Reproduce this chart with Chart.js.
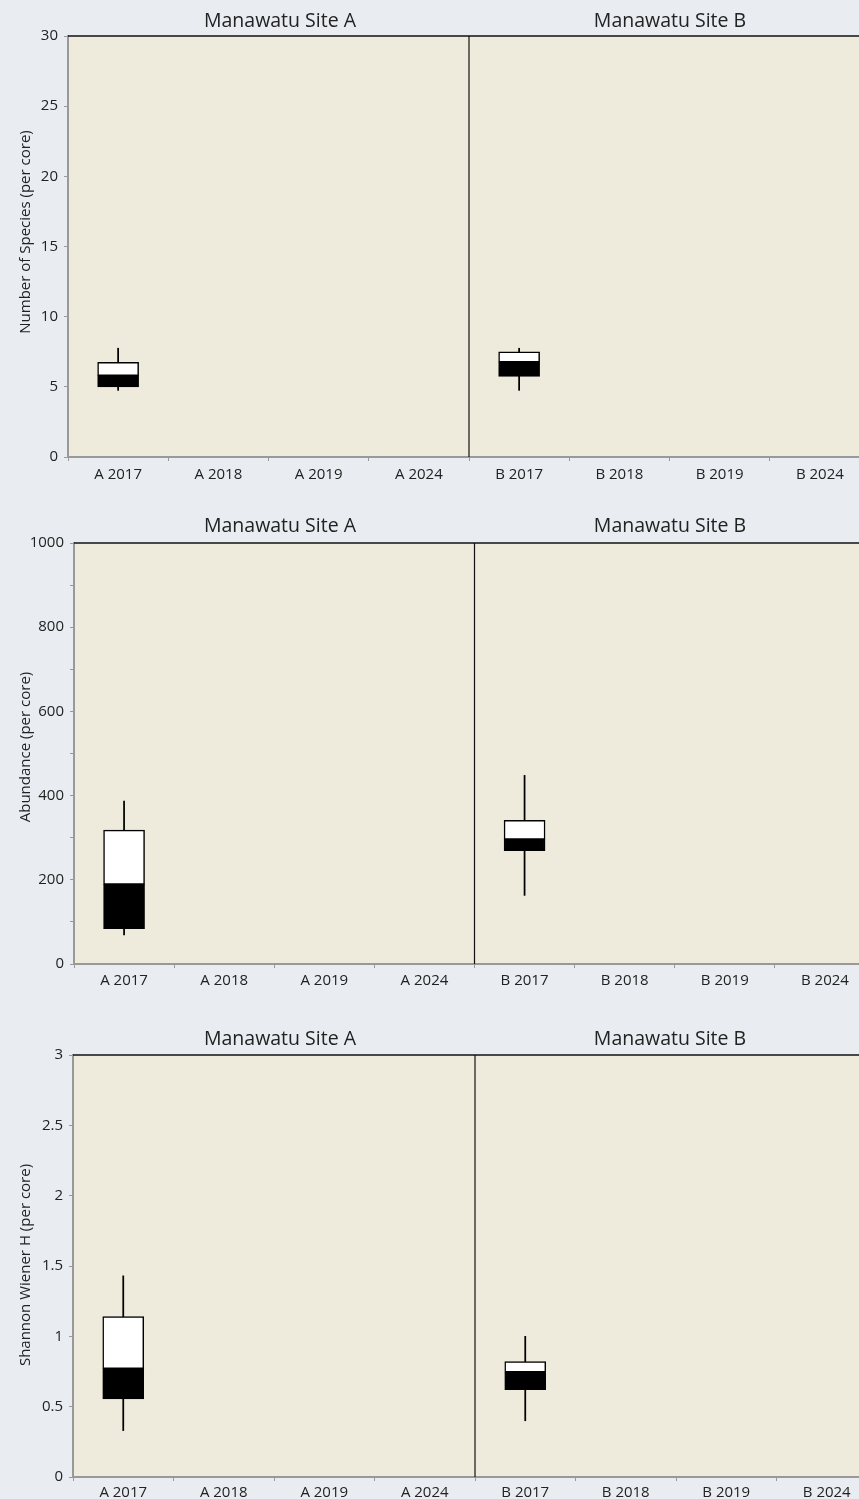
<!DOCTYPE html>
<html><head><meta charset="utf-8">
<script src="https://cdn.jsdelivr.net/npm/chart.js@4/dist/chart.umd.min.js"></script>
<style>
html,body{margin:0;padding:0;overflow:hidden;background:#e9edf1;width:859px;height:1499px;}
.wrap{position:absolute;left:0;width:880px;}
canvas{display:block;}
</style></head><body>
<div class="wrap" style="top:0"><canvas id="c1" width="880" height="500" style="width:880px;height:500px"></canvas></div>
<div class="wrap" style="top:500px"><canvas id="c2" width="880" height="500" style="width:880px;height:500px"></canvas></div>
<div class="wrap" style="top:1000px"><canvas id="c3" width="880" height="499" style="width:880px;height:499px"></canvas></div>
<script>
const categories = ['A 2017','A 2018','A 2019','A 2024','B 2017','B 2018','B 2019','B 2024'];
const siteTitles = ['Manawatu Site A','Manawatu Site B'];

// Number of species (per core)
const speciesMin    = [4.75, null, null, null, 4.75, null, null, null];
const speciesQ1     = [5.0,  null, null, null, 5.75, null, null, null];
const speciesMedian = [5.8,  null, null, null, 6.75, null, null, null];
const speciesQ3     = [6.75, null, null, null, 7.5,  null, null, null];
const speciesMax    = [7.75, null, null, null, 7.75, null, null, null];

// Abundance (per core)
const abundanceMin    = [69,  null, null, null, 163, null, null, null];
const abundanceQ1     = [84,  null, null, null, 269, null, null, null];
const abundanceMedian = [189, null, null, null, 296, null, null, null];
const abundanceQ3     = [318, null, null, null, 341, null, null, null];
const abundanceMax    = [387, null, null, null, 448, null, null, null];

// Shannon Wiener H (per core)
const shannonMin    = [0.33, null, null, null, 0.40, null, null, null];
const shannonQ1     = [0.555,null, null, null, 0.62, null, null, null];
const shannonMedian = [0.77, null, null, null, 0.745,null, null, null];
const shannonQ3     = [1.14, null, null, null, 0.82, null, null, null];
const shannonMax    = [1.43, null, null, null, 1.0,  null, null, null];

const speciesTicks = [0,5,10,15,20,25,30];
const abundanceTicks = [0,200,400,600,800,1000];
const shannonTicks = [0,0.5,1,1.5,2,2.5,3];

const FONT = '"Open Sans", "Noto Sans", sans-serif';
const TEXT = '#222';

const deco = {
  id: 'deco',
  beforeDraw(chart, args, o) {
    const {ctx, chartArea: a} = chart;
    ctx.save();
    ctx.fillStyle = '#eeebdc';
    ctx.fillRect(a.left, a.top, a.right - a.left, a.bottom - a.top);
    ctx.restore();
  },
  afterDraw(chart, args, o) {
    const {ctx, chartArea: a} = chart;
    const x = chart.scales.x;
    ctx.save();
    ctx.strokeStyle = '#111';
    ctx.lineWidth = 1.5;
    ctx.beginPath(); ctx.moveTo(a.left, a.top); ctx.lineTo(a.right, a.top); ctx.stroke();
    const xd = (x.getPixelForValue(3) + x.getPixelForValue(4)) / 2;
    ctx.lineWidth = 1.2;
    ctx.beginPath(); ctx.moveTo(xd, a.top); ctx.lineTo(xd, a.bottom); ctx.stroke();
    ctx.fillStyle = TEXT;
    ctx.font = '19.5px ' + FONT;
    ctx.textAlign = 'center';
    ctx.textBaseline = 'alphabetic';
    ctx.fillText(siteTitles[0], 280, o.titleY);
    ctx.fillText(siteTitles[1], 670, o.titleY);
    ctx.translate(o.axisX, o.axisY);
    ctx.rotate(-Math.PI / 2);
    ctx.font = '15px ' + FONT;
    ctx.fillText(o.axisTitle, 0, 0);
    ctx.restore();
  }
};

function boxDatasets(mn, q1, md, q3, mx) {
  const w  = mn.map((v, i) => v == null ? null : [v, mx[i]]);
  const lo = q1.map((v, i) => v == null ? null : [v, md[i]]);
  const up = md.map((v, i) => v == null ? null : [v, q3[i]]);
  return [
    {data: w,  backgroundColor: '#000', borderWidth: 0, barThickness: 1.1, grouped: false, order: 3},
    {data: up, backgroundColor: '#fff', borderColor: '#000', borderWidth: 1.5, borderSkipped: false, barThickness: 41, grouped: false, order: 2},
    {data: lo, backgroundColor: '#000', borderColor: '#000', borderWidth: 1.5, borderSkipped: false, barThickness: 41, grouped: false, order: 1}
  ];
}

function makeChart(id, cfg) {
  new Chart(document.getElementById(id), {
    type: 'bar',
    data: {labels: categories, datasets: boxDatasets(...cfg.series)},
    options: {
      responsive: false,
      animation: false,
      layout: {padding: {left: 0, right: cfg.padRight, top: cfg.padTop, bottom: cfg.padBottom}},
      plugins: {
        legend: {display: false},
        tooltip: {enabled: false},
        deco: {titleY: cfg.titleY, axisTitle: cfg.axisTitle, axisX: 30, axisY: cfg.axisY}
      },
      scales: {
        x: {
          type: 'category',
          offset: true,
          grid: {offset: true, drawOnChartArea: false, drawTicks: true, tickLength: 4, color: '#999', lineWidth: 1},
          border: {color: '#999', width: 2},
          ticks: {font: {family: FONT, size: 15}, color: TEXT, padding: cfg.xPad, maxRotation: 0, autoSkip: false},
          afterFit(s) { s.height = cfg.xHeight; }
        },
        y: {
          min: cfg.ticks[0],
          max: cfg.ticks[cfg.ticks.length - 1],
          grid: {drawOnChartArea: false, drawTicks: true, tickLength: 4, color: '#999', lineWidth: 1},
          border: {color: '#999', width: 2},
          ticks: {
            stepSize: cfg.step,
            font: {family: FONT, size: 15}, color: TEXT, padding: 6,
            callback: (v) => cfg.ticks.some(t => Math.abs(t - v) < 1e-9) ? String(v) : ''
          },
          afterFit(s) { s.width = cfg.left; }
        }
      }
    },
    plugins: [deco]
  });
}

makeChart('c1', {
  series: [speciesMin, speciesQ1, speciesMedian, speciesQ3, speciesMax],
  ticks: speciesTicks, step: 5, left: 68, padRight: 10, padTop: 36, padBottom: 3, xHeight: 40, xPad: 5,
  titleY: 26.5, axisTitle: 'Number of Species (per core)', axisY: 232
});
makeChart('c2', {
  series: [abundanceMin, abundanceQ1, abundanceMedian, abundanceQ3, abundanceMax],
  ticks: abundanceTicks, step: 100, left: 74, padRight: 5, padTop: 43, padBottom: 6, xHeight: 30, xPad: 4,
  titleY: 32.3, axisTitle: 'Abundance (per core)', axisY: 247
});
makeChart('c3', {
  series: [shannonMin, shannonQ1, shannonMedian, shannonQ3, shannonMax],
  ticks: shannonTicks, step: 0.5, left: 73, padRight: 3, padTop: 55, padBottom: 2, xHeight: 20, xPad: 3,
  titleY: 45, axisTitle: 'Shannon Wiener H (per core)', axisY: 265
});
</script>
</body></html>
